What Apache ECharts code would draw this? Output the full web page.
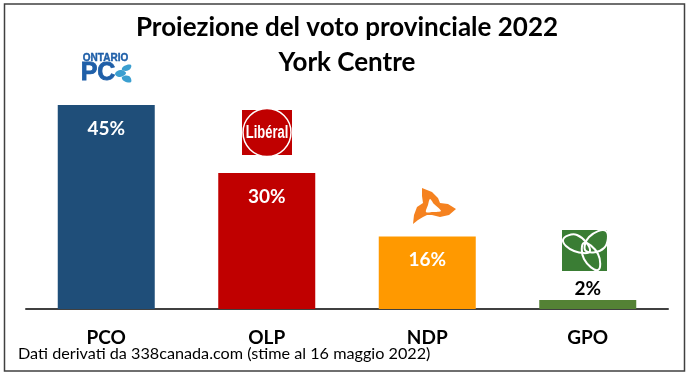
<!DOCTYPE html>
<html>
<head>
<meta charset="utf-8">
<style>
html, body { margin: 0; padding: 0; background: #fff; }
#chart { width: 689px; height: 377px; }
</style>
<script src="https://cdn.jsdelivr.net/npm/echarts@6/dist/echarts.min.js"></script>
</head>
<body>
<div id="chart"></div>
<script>
const categories = ["PCO", "OLP", "NDP", "GPO"];
const values = [45, 30, 16, 2];
const barColors = ["#1f4e79", "#c00000", "#ff9900", "#548235"];
const labelColors = ["#fff", "#fff", "#fff", "#000"];
const titleLines = ["Proiezione del voto provinciale 2022", "York Centre"];
const note = "Dati derivati da 338canada.com (stime al 16 maggio 2022)";

const font = "Lato";
const chart = echarts.init(document.getElementById("chart"), null, { renderer: "canvas" });

function leaf(points, style) {
    return { type: "polygon", shape: { points: points, smooth: 0.45 }, style: style };
}
const pcBlue = "#1f5fa8";
const pcLeaf = { fill: "#3b9fd0" };
const gpoLine = { fill: "none", stroke: "#fff", lineWidth: 2 };

// loghi dei partiti, disegnati a mano
const pcLogo = [
    { type: "text", style: { x: 105.5, y: 58, text: "ONTARIO", fill: pcBlue, font: "bold 10px 'Liberation Sans'", textAlign: "center", textVerticalAlign: "middle", stroke: pcBlue, lineWidth: 0.4 } },
    { type: "text", style: { x: 98, y: 73.5, text: "PC", fill: pcBlue, font: "bold 25px 'Liberation Sans'", textAlign: "center", textVerticalAlign: "middle", stroke: pcBlue, lineWidth: 0.8 } },
    leaf([[115, 74], [120, 70], [126, 73], [120, 77]], pcLeaf),
    leaf([[122, 70], [124, 66], [131, 65], [129, 70]], pcLeaf),
    leaf([[122, 77], [129, 76], [131, 82], [124, 81]], pcLeaf),
];
const liberalLogo = [
    { type: "rect", shape: { x: 242, y: 110, width: 50, height: 45 }, style: { fill: "#c00000" } },
    { type: "circle", shape: { cx: 267, cy: 132.5, r: 24 }, style: { fill: "#c00000", stroke: "#fff", lineWidth: 1.5 } },
    { type: "text", x: 267, y: 133, scaleX: 0.72, style: { x: 0, y: 0, text: "Libéral", fill: "#fff", font: "bold 18px 'Liberation Sans'", textAlign: "center", textVerticalAlign: "middle" } },
];
const ndpLogo = [
    { type: "polygon", shape: { points: [[422, 188], [432, 192], [438, 198], [440, 203], [448, 204], [456, 209], [449, 215], [440, 217], [432, 215], [427, 215], [423, 217], [418, 220], [413, 224], [414, 215], [417, 207], [423, 203], [422, 196]] }, style: { fill: "#f58220" } },
    { type: "polygon", shape: { points: [[430, 199], [434, 204], [441, 211], [433, 212], [426, 212], [428, 205]], smooth: 0.3 }, style: { fill: "#fff" } },
];
const gpoLogo = [
    { type: "rect", shape: { x: 562, y: 230, width: 45, height: 41 }, style: { fill: "#3a7d34" } },
    leaf([[563, 240], [577, 235], [590, 251], [574, 251]], gpoLine),
    leaf([[606, 231], [604, 248], [586, 251], [589, 237]], gpoLine),
    leaf([[584, 243], [598, 254], [598, 270], [584, 259]], gpoLine),
];

chart.setOption({
    backgroundColor: "#fff",
    animation: false,
    title: {
        text: titleLines.join("\n"),
        left: 342,
        top: 5,
        textAlign: "center",
        textStyle: { fontFamily: font, fontSize: 26, fontWeight: "bold", color: "#000", lineHeight: 35 },
    },
    grid: { left: 26, right: 21, top: 19, bottom: 68 },
    xAxis: {
        type: "category",
        data: categories,
        axisTick: { show: false },
        axisLine: { lineStyle: { color: "#404040", width: 2 } },
        axisLabel: { color: "#000", fontFamily: font, fontSize: 19, fontWeight: "bold", margin: 19 },
    },
    yAxis: { type: "value", min: 0, max: 64, show: false },
    series: [
        {
            type: "bar",
            barWidth: 97,
            data: values.map((v, i) => ({
                value: v,
                itemStyle: { color: barColors[i] },
                label: {
                    color: labelColors[i],
                    position: v < 5 ? "top" : "insideTop",
                    distance: v < 5 ? 2 : 14,
                },
            })),
            label: {
                show: true,
                fontFamily: font,
                fontSize: 19,
                fontWeight: "bold",
                formatter: "{c}%",
            },
        },
    ],
    graphic: [
        { type: "rect", shape: { x: 4.5, y: 4, width: 680, height: 367 }, style: { fill: "none", stroke: "#404040", lineWidth: 1.5 } },
        { type: "text", style: { x: 18, y: 354, text: note, fill: "#000", font: "16.2px Lato", textVerticalAlign: "middle" } },
        ...pcLogo, ...liberalLogo, ...ndpLogo, ...gpoLogo,
    ],
});
</script>
</body>
</html>
